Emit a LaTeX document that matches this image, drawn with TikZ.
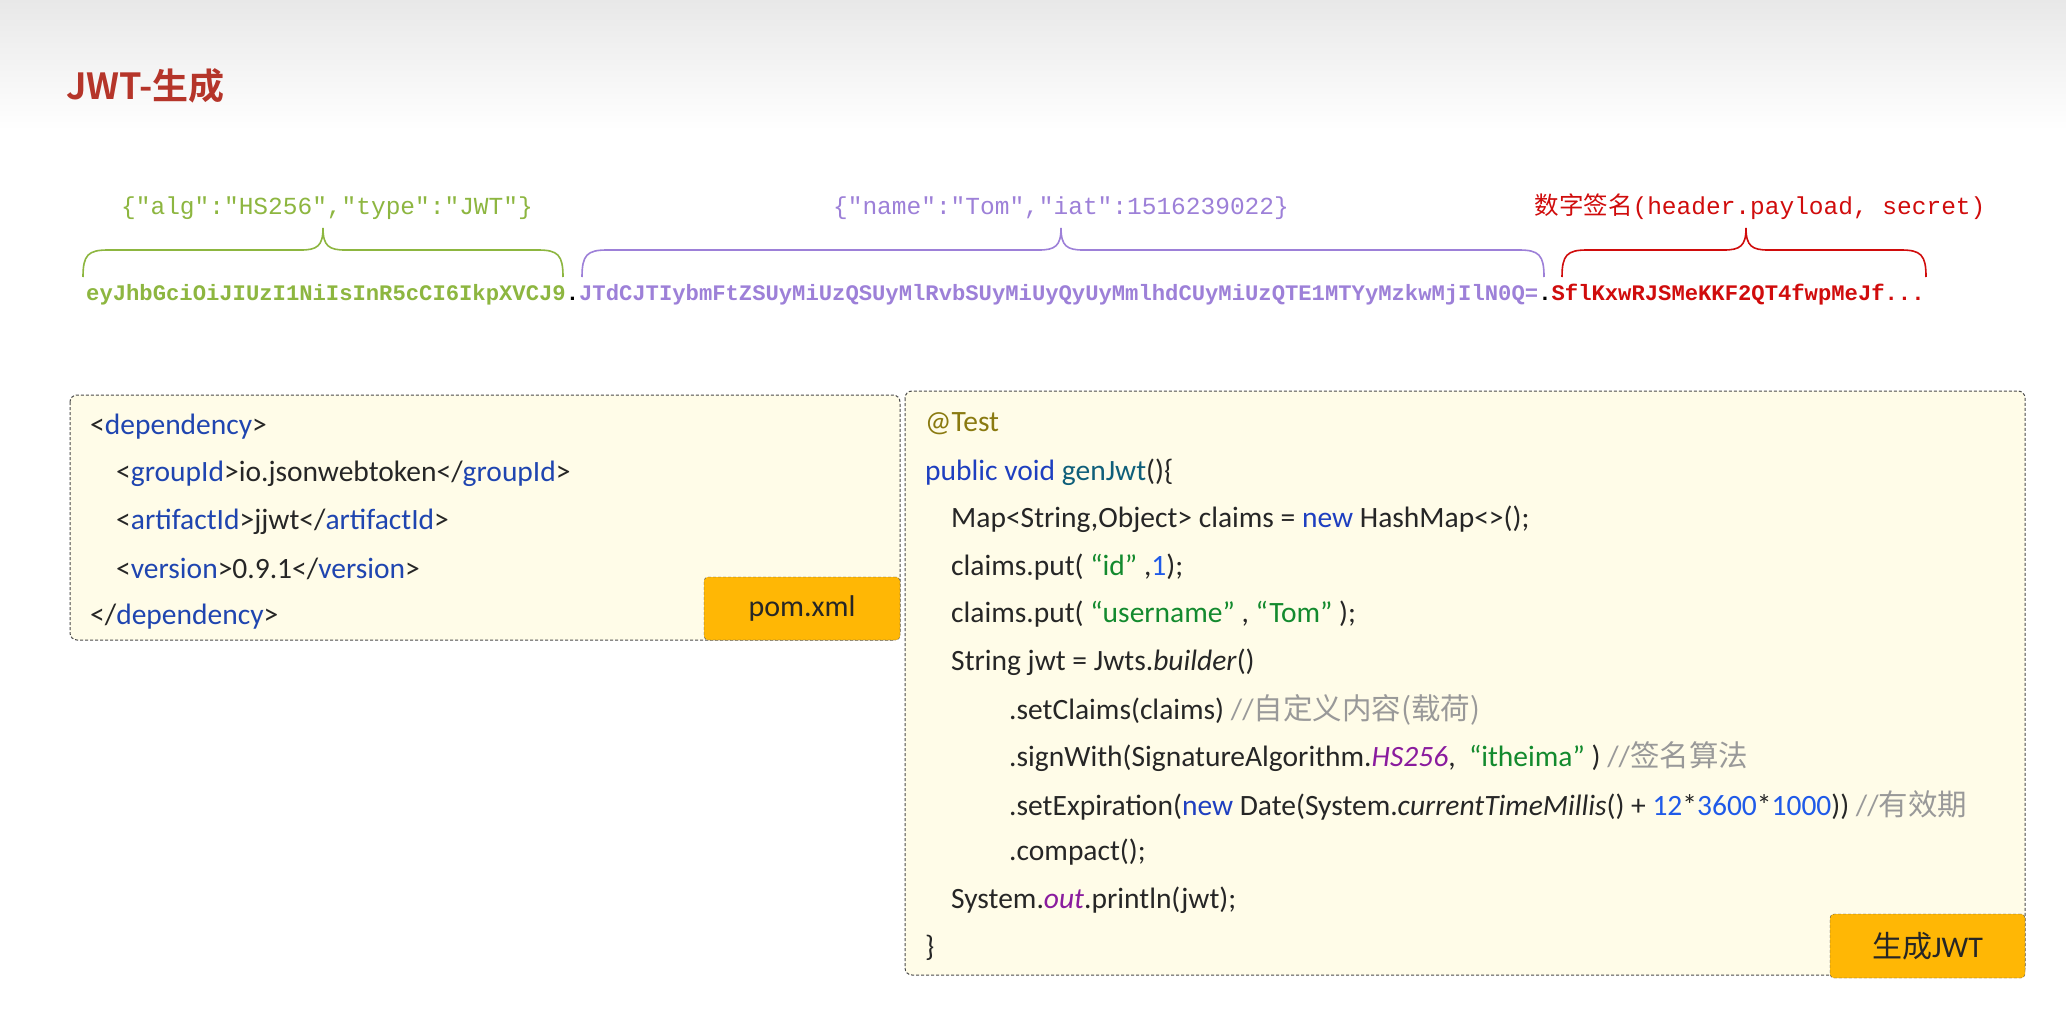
\documentclass[tikz,border=0pt]{standalone}
\usepackage{fontspec}
\setmainfont{Carlito}
\setmonofont{Liberation Mono}
\newfontfamily\cjk{Noto Sans CJK SC}
\newfontfamily\cjkb{Noto Sans CJK SC Bold}
\usetikzlibrary{shadings}
\definecolor{jgreen}{HTML}{8DB640}
\definecolor{jpurple}{HTML}{9D80D8}
\definecolor{jred}{HTML}{D00C0C}
\definecolor{ttl}{HTML}{B5352A}
\definecolor{boxbg}{HTML}{FFFCE8}
\definecolor{tagblue}{HTML}{1F45B0}
\definecolor{kw}{HTML}{1E3FC0}
\definecolor{str}{HTML}{138A2E}
\definecolor{num}{HTML}{1F5AE8}
\definecolor{cmt}{HTML}{999999}
\definecolor{pur}{HTML}{8A1C9E}
\definecolor{olive}{HTML}{8A7A10}
\definecolor{teal}{HTML}{0F5F7A}
\definecolor{org}{HTML}{FFB705}
\tikzset{
 code/.style={anchor=west,inner sep=0pt,font=\fontsize{29.5}{34}\selectfont,text=black!85},
 lbl/.style={inner sep=0pt,font=\ttfamily\fontsize{24.5}{28}\selectfont},
 cbox/.style={draw=black!70,dashed,dash pattern=on 3pt off 2pt,fill=boxbg,rounded corners=7pt,line width=1pt},
 tagbox/.style={draw=black!70,dashed,dash pattern=on 3pt off 2pt,fill=org,rounded corners=4pt,inner sep=0pt,font=\fontsize{30}{34}\selectfont,text=black!85},
 brace/.style={line width=1.6pt}
}
\newcommand{\jbrace}[4]{\draw[brace,#4] (#1,277) .. controls (#1,255) and (#1+5,250) .. (#1+25,250) -- (#2-22,250) .. controls (#2-6,250) and (#2,246) .. (#2,228) .. controls (#2,246) and (#2+6,250) .. (#2+22,250) -- (#3-25,250) .. controls (#3-5,250) and (#3,255) .. (#3,277);}
\newcommand{\tg}[1]{\textcolor{tagblue}{#1}}
\begin{document}
\begin{tikzpicture}[x=1pt,y=-1pt]
\useasboundingbox (0,0) rectangle (2066,1011);
\fill[white] (0,0) rectangle (2066,1011);
\shade[top color=black!9,bottom color=white] (0,0) rectangle (2066,130);
\node[anchor=west,inner sep=0pt,text=ttl,font=\cjkb\fontsize{36}{40}\selectfont] (title) at (66,86) {JWT-生成};
% token
\node[anchor=west,inner sep=0pt,font=\ttfamily\bfseries\fontsize{22.2}{26}\selectfont] (tok) at (86,295) {\textcolor{jgreen}{eyJhbGciOiJIUzI1NiIsInR5cCI6IkpXVCJ9}.\textcolor{jpurple}{JTdCJTIybmFtZSUyMiUzQSUyMlRvbSUyMiUyQyUyMmlhdCUyMiUzQTE1MTYyMzkwMjIlN0Q=}.\textcolor{jred}{SflKxwRJSMeKKF2QT4fwpMeJf...}};
\jbrace{83}{323}{563}{jgreen}
\jbrace{582}{1061}{1544}{jpurple}
\jbrace{1562}{1746}{1926}{jred}
\node[lbl,text=jgreen] (l1) at (327,208) {\{"alg":"HS256","type":"JWT"\}};
\node[lbl,text=jpurple] (l2) at (1061,208) {\{"name":"Tom","iat":1516239022\}};
\node[lbl,text=jred] (l3) at (1760,207) {{\cjk 数字签名}(header.payload, secret)};
% left box
\draw[cbox] (70,395) rectangle (900,640);
\node[code] (a1) at (90,427) {<\tg{dependency}>};
\node[code] (a2) at (116,474) {<\tg{groupId}>io.jsonwebtoken</\tg{groupId}>};
\node[code] (a3) at (116,522) {<\tg{artifactId}>jjwt</\tg{artifactId}>};
\node[code] (a4) at (116,569) {<\tg{version}>0.9.1</\tg{version}>};
\node[code] (a5) at (90,617) {</\tg{dependency}>};
\node[tagbox,minimum width=196pt,minimum height=63pt] (pom) at (802,608.5) {pom.xml};
% right box
\draw[cbox] (905,391) rectangle (2025,975);
\node[code,text=olive] (b1) at (925,424) {@Test};
\node[code] (b2) at (925,472) {\textcolor{kw}{public void} \textcolor{teal}{genJwt}()\{};
\node[code] (b3) at (951,519) {Map<String,Object> claims = \textcolor{kw}{new} HashMap<>();};
\node[code] (b4) at (951,567) {claims.put( \textcolor{str}{“id”} ,\textcolor{num}{1});};
\node[code] (b5) at (951,614) {claims.put( \textcolor{str}{“username”} , \textcolor{str}{“Tom”} );};
\node[code] (b6) at (951,662) {String jwt = Jwts.\textit{builder}()};
\node[code] (b7) at (1009,710) {.setClaims(claims) \textcolor{cmt}{//{\cjk 自定义内容(载荷)}}};
\node[code] (b8) at (1009,757) {.signWith(SignatureAlgorithm.\textcolor{pur}{\textit{HS256}},\ \ \textcolor{str}{“itheima”} ) \textcolor{cmt}{//{\cjk 签名算法}}};
\node[code] (b9) at (1009,805) {.setExpiration(\textcolor{kw}{new} Date(System.\textit{currentTimeMillis}() + \textcolor{num}{12}*\textcolor{num}{3600}*\textcolor{num}{1000})) \textcolor{cmt}{//{\cjk 有效期}}};
\node[code] (b10) at (1009,852) {.compact();};
\node[code] (b11) at (951,900) {System.\textcolor{pur}{\textit{out}}.println(jwt);};
\node[code] (b12) at (925,948) {\}};
\node[tagbox,minimum width=195pt,minimum height=64pt] (gen) at (1927.5,946) {{\cjk 生成}JWT};
\end{tikzpicture}
\end{document}
